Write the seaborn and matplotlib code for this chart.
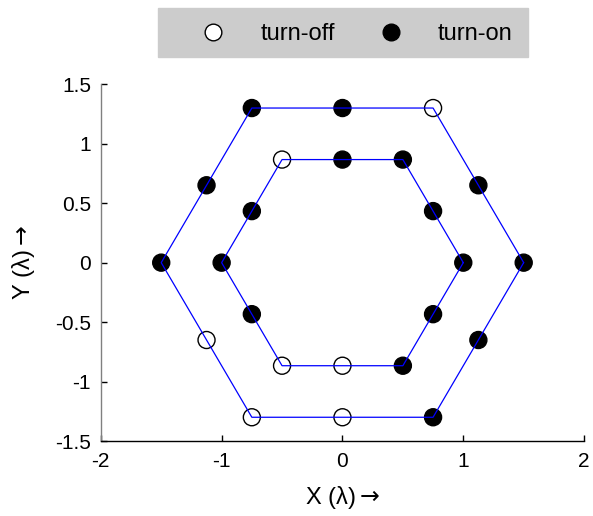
import matplotlib
matplotlib.use("Agg")
import matplotlib.pyplot as plt
from matplotlib.lines import Line2D
from matplotlib.patches import Rectangle
import seaborn as sns
import pandas as pd

sns.set_theme(style="white")
plt.rcParams["font.family"] = ["Liberation Sans", "DejaVu Sans"]
plt.rcParams["mathtext.fontset"] = "dejavusans"
plt.rcParams["text.color"] = "black"
plt.rcParams["axes.labelcolor"] = "black"
plt.rcParams["xtick.color"] = "black"
plt.rcParams["ytick.color"] = "black"

# Hexagon outlines (closed) for the outer and inner rings
outer_x = [1.5, 0.75, -0.75, -1.5, -0.75, 0.75, 1.5]
outer_y = [0.0, 1.299, 1.299, 0.0, -1.299, -1.299, 0.0]
inner_x = [1.0, 0.5, -0.5, -1.0, -0.5, 0.5, 1.0]
inner_y = [0.0, 0.866, 0.866, 0.0, -0.866, -0.866, 0.0]

# Element positions and their states
elem_x = [-0.75, 0.0, 0.75, -1.125, 1.125, -1.5, 1.5, -1.125, 1.125, -0.75, 0.0, 0.75,
          -0.5, 0.0, 0.5, -0.75, 0.75, -1.0, 1.0, -0.75, 0.75, -0.5, 0.0, 0.5]
elem_y = [1.299, 1.299, 1.299, 0.65, 0.65, 0.0, 0.0, -0.65, -0.65, -1.299, -1.299, -1.299,
          0.866, 0.866, 0.866, 0.433, 0.433, 0.0, 0.0, -0.433, -0.433, -0.866, -0.866, -0.866]
elem_state = ["turn-on", "turn-on", "turn-off", "turn-on", "turn-on", "turn-on", "turn-on",
              "turn-off", "turn-on", "turn-off", "turn-off", "turn-on",
              "turn-off", "turn-on", "turn-on", "turn-on", "turn-on", "turn-on", "turn-on",
              "turn-on", "turn-on", "turn-off", "turn-off", "turn-on"]

states = ["turn-off", "turn-on"]
state_colors = {"turn-off": "white", "turn-on": "black"}

x_ticks = [-2, -1, 0, 1, 2]
y_ticks = [-1.5, -1, -0.5, 0, 0.5, 1, 1.5]
y_tick_labels = ["-1.5", "-1", "-0.5", "0", "0.5", "1", "1.5"]

elems = pd.DataFrame({"x": elem_x, "y": elem_y, "state": elem_state})
rings = pd.concat([
    pd.DataFrame({"x": outer_x, "y": outer_y, "ring": "outer"}),
    pd.DataFrame({"x": inner_x, "y": inner_y, "ring": "inner"}),
])

fig = plt.figure(figsize=(5.93, 5.16), dpi=100)
ax = fig.add_axes([0.170, 0.145, 0.815, 0.692])

sns.scatterplot(data=elems, x="x", y="y", hue="state", palette=state_colors,
                hue_order=states, s=150, edgecolor="black", linewidth=1.0,
                legend=False, ax=ax, zorder=2)
sns.lineplot(data=rings, x="x", y="y", units="ring", estimator=None, sort=False,
             color="blue", linewidth=0.9, ax=ax, zorder=3)

ax.set_xlim(-2, 2)
ax.set_ylim(-1.5, 1.5)
ax.set_xticks(x_ticks)
ax.set_xticklabels([str(t) for t in x_ticks])
ax.set_yticks(y_ticks)
ax.set_yticklabels(y_tick_labels)

for side in ["top", "right"]:
    ax.spines[side].set_visible(False)
ax.spines["left"].set_color("#808080")
ax.spines["bottom"].set_color("black")
ax.spines["left"].set_linewidth(1.0)
ax.spines["bottom"].set_linewidth(1.0)

ax.tick_params(axis="x", direction="in", length=4, width=1, color="black",
               labelsize=15, pad=8, bottom=True)
ax.tick_params(axis="y", direction="in", length=4, width=1, color="black",
               labelsize=15, pad=7, left=True)

ax.set_xlabel(r"X (λ)$\rightarrow$", fontsize=17, labelpad=9)
ax.set_ylabel(r"Y (λ)$\rightarrow$", fontsize=17, labelpad=13)

# Legend band above the axes
fig.patches.append(Rectangle((158 / 593, 1 - 57 / 516), 370 / 593, 49 / 516,
                             transform=fig.transFigure, facecolor="#cccccc",
                             edgecolor="#cccccc", zorder=0))
handles = [Line2D([], [], linestyle="none", marker="o", markersize=12,
                  markerfacecolor=state_colors[s], markeredgecolor="black",
                  markeredgewidth=1.0) for s in states]
fig.legend(handles, states, loc="center left",
           bbox_to_anchor=(189.5 / 593, 1 - 34 / 516), ncol=2, frameon=False,
           fontsize=17, borderpad=0, borderaxespad=0, handlelength=2.0,
           handletextpad=1.0, columnspacing=1.37)

fig.savefig("out.png", dpi=100)
